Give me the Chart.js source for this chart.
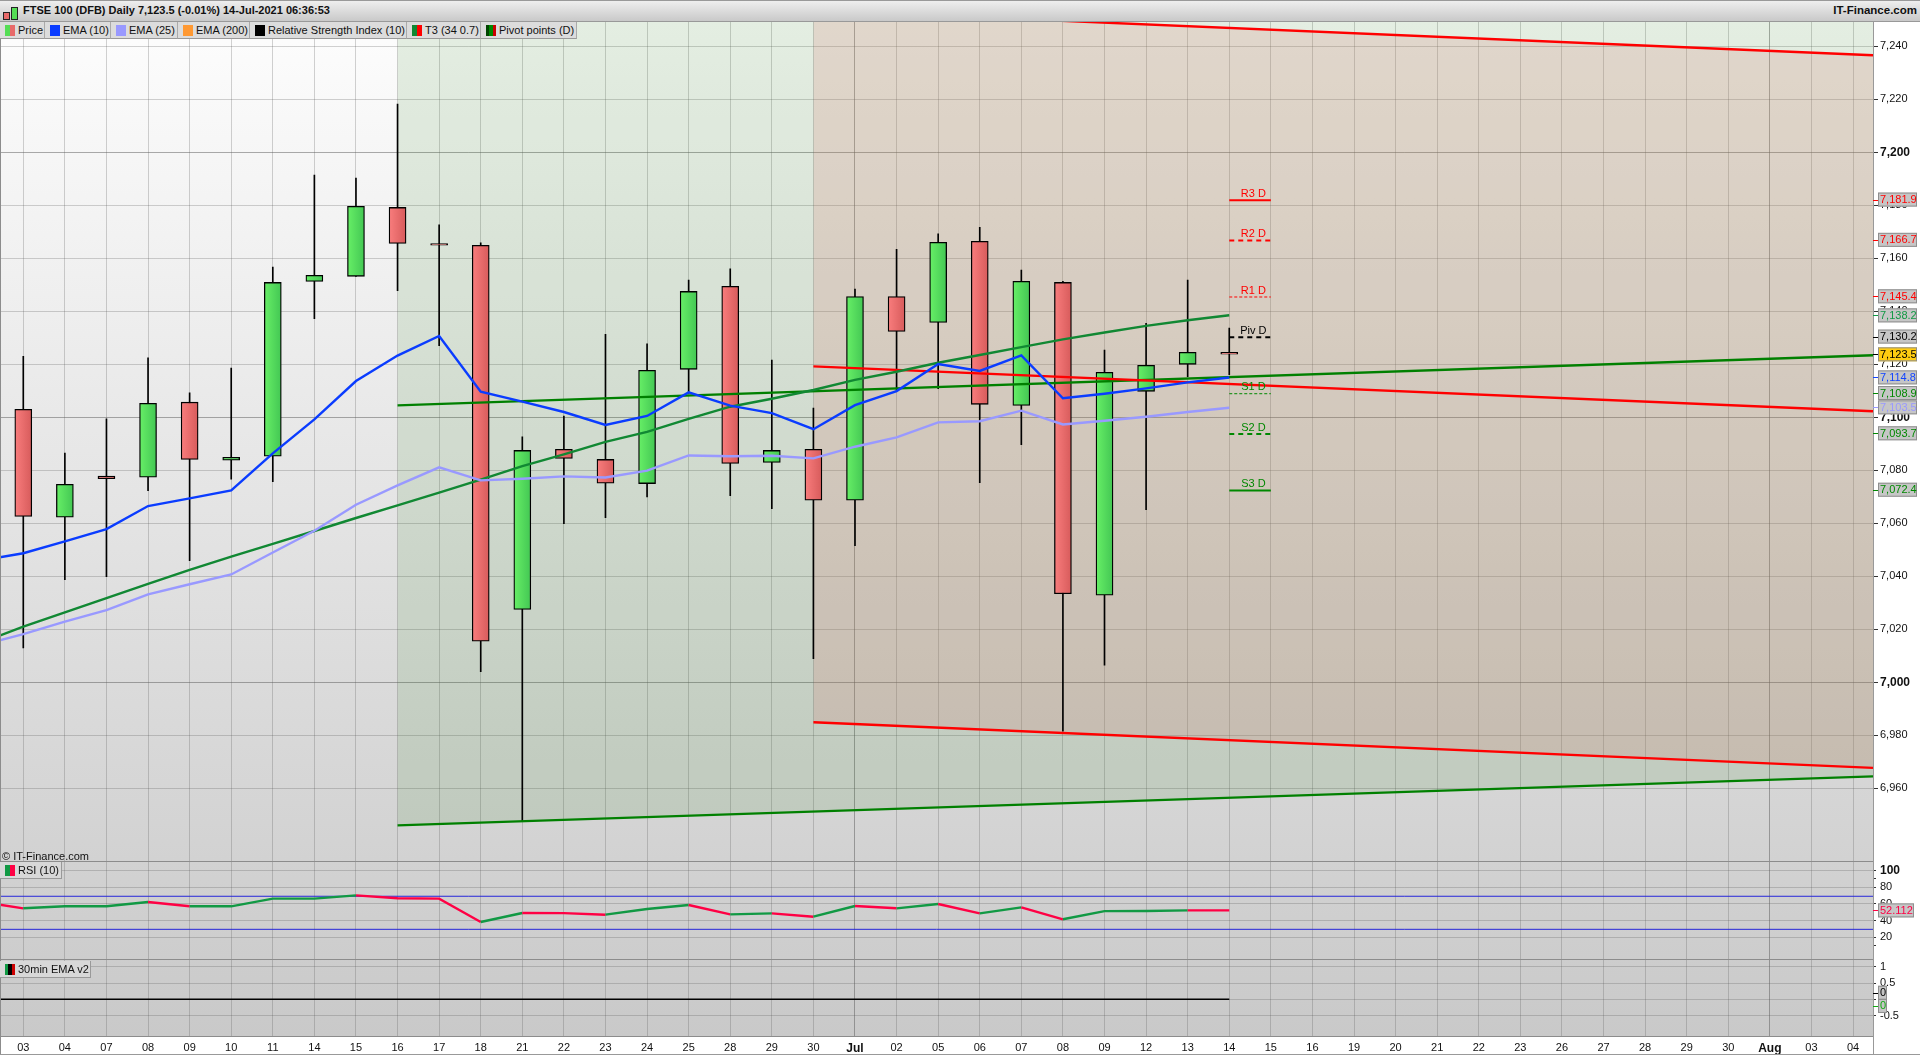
<!DOCTYPE html>
<html>
<head>
<meta charset="utf-8">
<title>FTSE 100 (DFB) Daily</title>
<script src="https://cdn.jsdelivr.net/npm/chart.js@4"></script>
<style>
  html, body { margin: 0; padding: 0; background: #fff; font-family: "Liberation Sans", Arial, sans-serif; color: #111; }
  #wrap { position: relative; width: 1920px; height: 1055px; overflow: hidden; }
  canvas { position: absolute; left: 0; top: 0; }
  #titlebar { position: absolute; left: 0; top: 0; width: 1920px; height: 22px; box-sizing: border-box; border-top: 1px solid #999; border-bottom: 1px solid #999;
    background: linear-gradient(#eeeeee, #c9c9c9); }
  #titlebar .t { position: absolute; left: 23px; top: 3px; font-size: 11px; font-weight: bold; white-space: nowrap; }
  #titlebar .r { position: absolute; right: 3px; top: 3px; font-size: 11.5px; font-weight: bold; }
  .ico { position: absolute; width: 5px; border: 1px solid #222; }
  #legend { position: absolute; left: 0; top: 22px; height: 17px; display: flex; }
  .leg { position: relative; height: 16px; box-sizing: content-box; background: #dcdcdc; border-right: 1px solid #aaa; border-bottom: 1px solid #999; font-size: 11px; line-height: 16px; white-space: nowrap; }
  .leg i { position: absolute; left: 5px; top: 3px; width: 10px; height: 11px; display: block; }
  .leg span { position: absolute; top: 0; left: 18px; }
  .panelbox { position: absolute; left: 0; height: 16px; background: #d8d8d8; border-right: 1px solid #999; border-bottom: 1px solid #999; font-size: 11px; line-height: 16px; white-space: nowrap; }
  .panelbox i { position: absolute; left: 5px; top: 3px; width: 10px; height: 11px; display: block; }
  .panelbox span { position: absolute; left: 18px; top: 0; }
  #copy { position: absolute; left: 2px; top: 850px; font-size: 11px; }
</style>
</head>
<body>
<div id="wrap">
  <canvas id="c" width="1920" height="1055"></canvas>
  <div id="titlebar">
    <div class="ico" style="left:3px;top:11px;height:6px;background:#e86a6a"></div>
    <div class="ico" style="left:11px;top:6px;height:11px;background:#55dd55"></div>
    <div class="t">FTSE 100 (DFB) Daily 7,123.5 (-0.01%) 14-Jul-2021 06:36:53</div>
    <div class="r">IT-Finance.com</div>
  </div>
  <div id="legend"></div>
  <div id="copy">© IT-Finance.com</div>
  <div class="panelbox" style="top:862px;width:61px"><i style="background:linear-gradient(90deg,#119944 50%,#ff0044 50%)"></i><span>RSI (10)</span></div>
  <div class="panelbox" style="top:961px;width:90px"><i style="background:linear-gradient(90deg,#119944 33%,#000 33% 66%,#cc0000 66%)"></i><span>30min EMA v2</span></div>
</div>
<script>
// FTSE 100 daily candles
const dayLabels = ['03','04','07','08','09','10','11','14','15','16','17','18','21','22','23','24','25','28','29','30',
  'Jul','02','05','06','07','08','09','12','13','14','15','16','19','20','21','22','23','26','27','28','29','30','Aug','03','04'];

const opens  = [7103,7062.3,7077.8,7077.4,7105.7,7083.8,7085.3,7151.3,7153.2,7179.2,7165.6,7164.9,7027.5,7087.9,7084.1,7075,7118.1,7149.4,7083,7087.9,
  7068.7,7145.6,7135.8,7166.4,7104.5,7150.9,7032.9,7109.8,7120,7124.5];
const closes = [7062.6,7074.7,7076.8,7105.3,7084.1,7084.9,7150.9,7153.6,7179.6,7165.6,7165,7015.5,7087.5,7084.5,7075.1,7117.7,7147.5,7082.6,7087.5,7068.7,
  7145.6,7132.4,7166,7104.9,7151.3,7033.4,7117,7119.6,7124.5,7123.8];
const highs  = [7123,7086.5,7099.4,7122.4,7109.2,7118.6,7156.7,7191.4,7190.3,7218.2,7172.6,7165.8,7092.6,7100.5,7131.3,7127.7,7151.8,7156,7121.6,7103.5,
  7148.4,7163.4,7169.2,7171.7,7155.6,7151.3,7125.4,7135.5,7151.8,7133.7];
const lows   = [7013,7038.7,7039.9,7072.3,7045.9,7076.7,7075.7,7137.2,7153.2,7147.8,7127,7004,6947.4,7059.9,7062.1,7070,7109,7070.4,7065.5,7008.9,
  7051.6,7110,7110.8,7075.3,7089.7,6981.6,7006.5,7065.1,7115.3,7116.1];

// indicator series start one session before the first visible candle
const ema10 = [7046,7048.7,7053.2,7057.8,7066.5,7069.4,7072.4,7086.4,7099.2,7113.7,7123.3,7130.7,7109.7,7105.9,7102,7097.1,7100.5,7109.4,7104.4,7101.6,7095.5,
  7104.6,7109.9,7120.1,7117.5,7123.4,7107.2,7108.9,7110.9,7113.2,7115];
const ema25 = [7014,7018.2,7022.9,7027.2,7033.2,7037,7040.7,7049,7057.2,7067,7074.3,7081.1,7076.2,7076.8,7077.7,7077.3,7079.9,7085.6,7085.3,7085.5,7084.5,
  7088.9,7092.4,7098.1,7098.5,7102.5,7097.3,7098.7,7100.2,7102,7103.6];
const t3Line = [7015,7021,7026.4,7031.8,7037.1,7042.4,7047.4,7052.2,7057.1,7062,7066.8,7071.6,7076.5,7081.6,7086,7090.7,7094.5,7099.4,7104,7107,7110.3,
  7114.1,7117.2,7120.6,7123.5,7126.5,7129.4,7132,7134.5,7136.6,7138.5];
const rsiLine = [62.4,54.6,57,57,62.2,57,57,66.2,66.2,70.1,66.6,66.2,38.3,49,48.9,47,53.8,58.6,47.4,48.6,44.6,
  57.4,54.6,59.8,48.6,55.8,41.5,51.3,51.4,52.2,52.1];
const rsiBands = [69, 29.5];

// channels: [left end, right end]
const greenChannelX = [9, 44.48];
const greenLow = [6946, 6964.5];
const greenMid = [7104.5, 7123.4];
const redChannelX = [19, 44.48];
const redHigh = [7253.6, 7236.6];
const redMid  = [7119.2, 7102.3];
const redLow  = [6984.9, 6967.7];

const pivotNames  = ['R3 D','R2 D','R1 D','Piv D','S1 D','S2 D','S3 D'];
const pivotLevels = [7181.9,7166.7,7145.4,7130.2,7108.9,7093.7,7072.4];
const pivotColors = ['#ff0000','#ff0000','#ff0000','#000000','#008800','#008800','#008800'];
const pivotWidths = [2,2,1,2,1,2,2];
const pivotDashes = [[],[5,4],[3,2],[5,4],[3,2],[5,4],[]];

const priceTags = [
  [7181.9,'7,181.9','#ff0000'],[7166.7,'7,166.7','#ff0000'],[7145.4,'7,145.4','#ff0000'],[7138.2,'7,138.2','#119944'],
  [7130.2,'7,130.2','#000000'],[7114.8,'7,114.8','#1144ff'],[7108.9,'7,108.9','#008800'],[7103.5,'7,103.5','#9999ff'],
  [7093.7,'7,093.7','#008800'],[7072.4,'7,072.4','#008800'],[7123.5,'7,123.5','#000000']
];

const legendNames = ['Price','EMA (10)','EMA (25)','EMA (200)','Relative Strength Index (10)','T3 (34 0.7)','Pivot points (D)'];
const legendWidths = [44,65,66,71,156,73,95];
const legendSwatches = [
  'linear-gradient(90deg,#55dd55 50%,#e86a6a 50%)','#0a3cff','#9999ff','#ff9933','#000',
  'linear-gradient(90deg,#118833 50%,#ff0000 50%)','linear-gradient(90deg,#004400 33%,#008800 33% 66%,#cc0000 66%)'
];

const legendEl = document.getElementById('legend');
legendNames.forEach((n, i) => {
  const d = document.createElement('div');
  d.className = 'leg';
  d.style.width = legendWidths[i] + 'px';
  d.innerHTML = `<i style="background:${legendSwatches[i]}"></i><span>${n}</span>`;
  legendEl.appendChild(d);
});

const X_MIN = -0.56, X_MAX = 44.48;
const FONT = '"Liberation Sans", Arial, sans-serif';
const fmt = v => v.toLocaleString('en-US');

function candleFill(ctx) {
  if (!ctx.parsed || !ctx.chart.chartArea) return '#55dd55';
  const i = ctx.dataIndex;
  const px = ctx.chart.scales.x.getPixelForValue(i);
  const g = ctx.chart.ctx.createLinearGradient(px - 8, 0, px + 8, 0);
  if (closes[i] >= opens[i]) { g.addColorStop(0, '#66ee66'); g.addColorStop(1, '#44c854'); }
  else { g.addColorStop(0, '#f87c7c'); g.addColorStop(1, '#d85c5c'); }
  return g;
}

function series(values, color, order, extra) {
  return Object.assign({
    type: 'line', yAxisID: 'yMain', xAxisID: 'x',
    data: values.map((v, i) => ({ x: i - 1, y: v })),
    borderColor: color, borderWidth: 2.4, pointRadius: 0, tension: 0, fill: false, order,
  }, extra);
}

function twoPoint(xs, ys, color, order, extra) {
  return Object.assign({
    type: 'line', yAxisID: 'yMain', xAxisID: 'x',
    data: [{ x: xs[0], y: ys[0] }, { x: xs[1], y: ys[1] }],
    borderColor: color, borderWidth: 2.4, pointRadius: 0, tension: 0, fill: false, order,
  }, extra);
}

const datasets = [
  // wicks, then bodies on top
  { type: 'bar', yAxisID: 'yMain', xAxisID: 'x', order: 20, grouped: false, barThickness: 1, backgroundColor: '#000', borderWidth: 0,
    data: highs.map((h, i) => ({ x: i, y: [lows[i], h] })) },
  { type: 'bar', yAxisID: 'yMain', xAxisID: 'x', order: 19, grouped: false, barThickness: 17, backgroundColor: candleFill, borderColor: '#000', borderWidth: 1.3, borderSkipped: false,
    data: opens.map((o, i) => ({ x: i, y: [o, closes[i]] })) },

  twoPoint(redChannelX, redHigh, '#ff0000', 6, { fill: { target: '+1' }, backgroundColor: 'rgba(216,126,113,0.2)' }),
  twoPoint(redChannelX, redLow, '#ff0000', 6),
  twoPoint(redChannelX, redMid, '#ff0000', 6),
  twoPoint(greenChannelX, greenLow, '#008000', 7, { fill: 'end', backgroundColor: 'rgba(50,133,33,0.12)' }),
  twoPoint(greenChannelX, greenMid, '#008000', 7),

  series(t3Line, '#118833', 5),
  series(ema25, '#9999ff', 4),
  series(ema10, '#0a3cff', 3),

  // RSI pane
  { type: 'line', yAxisID: 'yRsi', xAxisID: 'x', data: [{ x: X_MIN, y: rsiBands[0] }, { x: X_MAX, y: rsiBands[0] }], borderColor: '#2626d9', borderWidth: 1, pointRadius: 0, order: 2 },
  { type: 'line', yAxisID: 'yRsi', xAxisID: 'x', data: [{ x: X_MIN, y: rsiBands[1] }, { x: X_MAX, y: rsiBands[1] }], borderColor: '#2626d9', borderWidth: 1, pointRadius: 0, order: 2 },
  { type: 'line', yAxisID: 'yRsi', xAxisID: 'x', data: rsiLine.map((v, i) => ({ x: i - 1, y: v })), borderWidth: 2.4, pointRadius: 0, order: 1, borderColor: '#119944',
    segment: { borderColor: c => c.p1.parsed.y < c.p0.parsed.y ? '#ff0044' : '#119944' } },

  // 30min EMA pane
  { type: 'line', yAxisID: 'yEma', xAxisID: 'x', data: [{ x: X_MIN, y: 0 }, { x: 29, y: 0 }], borderColor: '#000', borderWidth: 1.5, pointRadius: 0, order: 1 },
];

pivotLevels.forEach((lv, i) => {
  datasets.push(twoPoint([29, 30], [lv, lv], pivotColors[i], 2, { borderWidth: pivotWidths[i], borderDash: pivotDashes[i] }));
});

function drawTag(c, y, text, color, left, w, bg) {
  c.save();
  c.fillStyle = color;
  c.fillRect(1873, Math.round(y), 5, 1);
  c.fillStyle = bg || '#c6c6c6';
  c.strokeStyle = '#8f8f8f';
  c.lineWidth = 1;
  c.fillRect(left, y - 7, w, 14);
  c.strokeRect(left + 0.5, y - 6.5, w - 1, 13);
  c.fillStyle = color;
  c.font = '11px ' + FONT;
  c.textAlign = 'left';
  c.textBaseline = 'middle';
  c.fillText(text, left + 2, y + 0.5);
  c.restore();
}

const paneExtras = {
  id: 'paneExtras',
  beforeDraw(chart) {
    const { ctx: c, chartArea: a } = chart;
    const g = c.createLinearGradient(0, a.top, 0, a.bottom);
    g.addColorStop(0, '#fdfdfd');
    g.addColorStop(1, '#c9c9c9');
    c.fillStyle = g;
    c.fillRect(a.left, a.top, a.width, a.height);
  },
  afterDraw(chart) {
    const { ctx: c, chartArea: a, scales } = chart;
    // pane separators
    c.fillStyle = '#8c8c8c';
    [scales.yRsi.top, scales.yEma.top].forEach(y => c.fillRect(a.left, Math.round(y) - 1, a.width, 1));
    // left and bottom frame
    c.fillRect(0, 21, 1, 1033);
    c.fillRect(a.left, Math.round(a.bottom), a.width, 1);
    c.fillStyle = '#999';
    c.fillRect(0, 1054, 1920, 1);
    c.fillRect(1873, 21, 1, 1033);

    // pivot captions above their short lines
    c.font = '11px ' + FONT;
    c.textAlign = 'center';
    c.textBaseline = 'bottom';
    pivotLevels.forEach((lv, i) => {
      c.fillStyle = pivotColors[i];
      c.fillText(pivotNames[i], scales.x.getPixelForValue(29.58), scales.yMain.getPixelForValue(lv) - 1);
    });

    priceTags.forEach(([v, text, color]) => {
      const last = v === 7123.5;
      drawTag(c, scales.yMain.getPixelForValue(v) - 0.7, text, color, 1878, 39, last ? '#ffcc11' : null);
    });
    drawTag(c, scales.yRsi.getPixelForValue(52.112), '52.112', '#ff0044', 1878, 36);
    drawTag(c, scales.yEma.getPixelForValue(0) - 6.6, '0', '#000', 1878, 9);
    drawTag(c, scales.yEma.getPixelForValue(0) + 6.6, '0', '#11aa11', 1878, 9);
  },
};

const gridGrey = 'rgba(90,90,90,0.27)';
const gridDark = 'rgba(90,90,90,0.5)';

new Chart(document.getElementById('c'), {
  type: 'bar',
  data: { datasets },
  plugins: [paneExtras],
  options: {
    responsive: false,
    devicePixelRatio: 1,
    animation: false,
    layout: { padding: { top: 21, left: 0, right: 0, bottom: 0 } },
    plugins: { legend: { display: false }, tooltip: { enabled: false }, filler: { drawTime: 'beforeDatasetsDraw' } },
    scales: {
      x: {
        type: 'linear', min: X_MIN, max: X_MAX, offset: false,
        afterBuildTicks: s => { s.ticks = dayLabels.map((_, i) => ({ value: i })); },
        afterFit: s => { s.height = 18.7; },
        border: { display: false },
        grid: { offset: false, drawTicks: false, color: c => ['Jul', 'Aug'].includes(dayLabels[c.tick && c.tick.value]) ? gridDark : gridGrey, lineWidth: 1 },
        ticks: {
          autoSkip: false, maxRotation: 0, padding: 5, color: '#111',
          callback: v => dayLabels[v],
          font: c => ({ family: FONT, size: ['Jul', 'Aug'].includes(dayLabels[c.tick && c.tick.value]) ? 12 : 11, weight: ['Jul', 'Aug'].includes(dayLabels[c.tick && c.tick.value]) ? 'bold' : 'normal' }),
        },
      },
      yMain: {
        type: 'linear', position: 'right', stack: 'panes', stackWeight: 840.7, min: 6932.3, max: 7249.55,
        afterFit: s => { s.width = 47; },
        afterBuildTicks: s => { s.ticks = s.ticks.filter(t => t.value >= 6960); },
        border: { display: false },
        grid: { color: c => c.tick && c.tick.value % 100 === 0 ? gridDark : gridGrey, tickColor: '#333', tickLength: 5 },
        ticks: {
          stepSize: 20, includeBounds: false, autoSkip: false, padding: 2, color: '#111',
          callback: v => fmt(v),
          font: c => ({ family: FONT, size: c.tick && c.tick.value % 100 === 0 ? 12 : 11, weight: c.tick && c.tick.value % 100 === 0 ? 'bold' : 'normal' }),
        },
      },
      yRsi: {
        type: 'linear', position: 'right', stack: 'panes', stackWeight: 98.6, min: -7.5, max: 110.3,
        afterFit: s => { s.width = 47; },
        afterBuildTicks: s => { s.ticks = [100, 90, 80, 60, 40, 20, 10].map(value => ({ value })); },
        border: { display: false },
        grid: { color: c => c.tick && (c.tick.value === 90 || c.tick.value === 10) ? 'rgba(0,0,0,0)' : gridGrey, tickColor: '#333', tickLength: 3 },
        ticks: {
          autoSkip: false, padding: 4, color: '#111',
          callback: v => (v === 90 || v === 10) ? '' : String(v),
          font: c => ({ family: FONT, size: c.tick && c.tick.value === 100 ? 12 : 11, weight: c.tick && c.tick.value === 100 ? 'bold' : 'normal' }),
        },
      },
      yEma: {
        type: 'linear', position: 'right', stack: 'panes', stackWeight: 76, min: -1.142, max: 1.207,
        afterFit: s => { s.width = 47; },
        afterBuildTicks: s => { s.ticks = [1, 0.5, 0, -0.5].map(value => ({ value })); },
        border: { display: false },
        grid: { color: gridGrey, tickColor: '#333', tickLength: 3 },
        ticks: { autoSkip: false, padding: 4, color: '#111', font: { family: FONT, size: 11 }, callback: v => String(v) },
      },
    },
  },
});
</script>
</body>
</html>
